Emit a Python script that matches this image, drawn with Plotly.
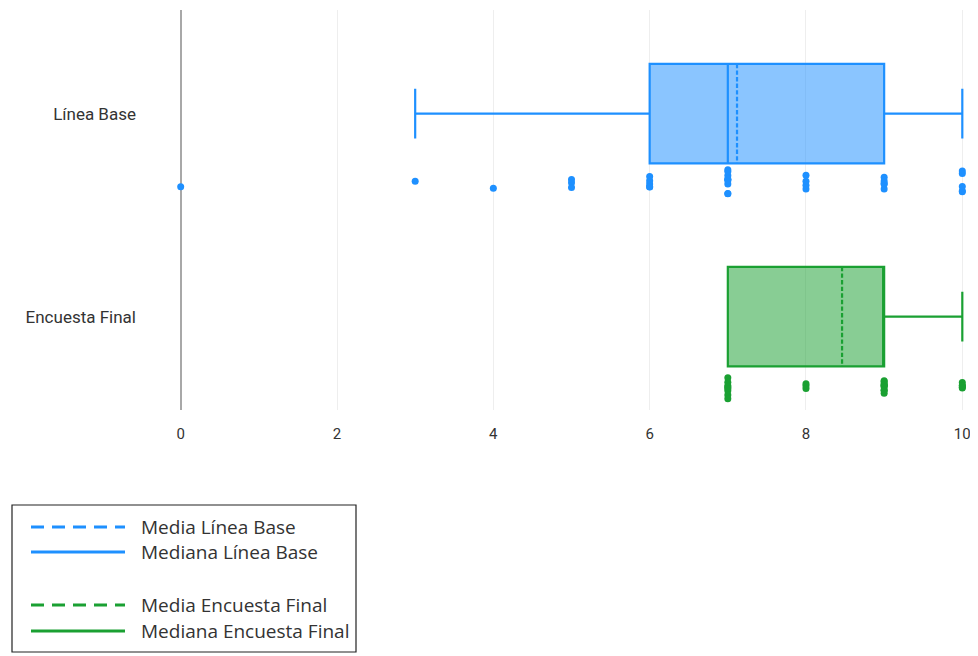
import plotly.graph_objects as go

# ---- data ----
categories = ["Línea Base", "Encuesta Final"]
score_levels = [0, 3, 4, 5, 6, 7, 8, 9, 10]
counts_base = [1, 1, 1, 3, 5, 9, 4, 5, 5]
final_levels = [7, 8, 9, 10]
counts_final = [8, 3, 10, 5]
x_ticks = [0, 2, 4, 6, 8, 10]
legend_labels = ["Media Línea Base", "Mediana Línea Base",
                 "Media Encuesta Final", "Mediana Encuesta Final"]

base_vals = [v for v, c in zip(score_levels, counts_base) for _ in range(c)]
final_vals = [v for v, c in zip(final_levels, counts_final) for _ in range(c)]

BLUE = "#1E90FF"
GREEN = "#1AA032"

fig = go.Figure()
for name, vals, col, fill in [
    (categories[0], base_vals, BLUE, "rgba(30,144,255,0.52)"),
    (categories[1], final_vals, GREEN, "rgba(26,160,50,0.52)"),
]:
    fig.add_trace(go.Box(
        x=vals, y=[name] * len(vals), orientation="h", name=name,
        boxpoints="all", jitter=0.3, pointpos=1.42, boxmean=True,
        width=0.49, line=dict(color=col, width=2.2), fillcolor=fill,
        marker=dict(color=col, size=7), showlegend=False,
    ))

# page is offset by the body margin (8px)
OFF = 8
W, H = 970, 648
L, R, T, B = 168, 11, 2, 246
pw, ph = W - L - R, H - T - B

def px(x):
    return (x - OFF - L) / pw

def py(y):
    return (OFF + T + ph - y) / ph

shapes = [dict(type="rect", xref="paper", yref="paper",
               x0=px(12), x1=px(356), y0=py(652), y1=py(505),
               line=dict(color="#222", width=1.2), fillcolor="white")]
annos = []
rows = [(527, BLUE, "13px,8px"), (552, BLUE, "solid"),
        (605, GREEN, "13px,8px"), (631, GREEN, "solid")]
for (yy, col, dash), lab in zip(rows, legend_labels):
    shapes.append(dict(type="line", xref="paper", yref="paper",
                       x0=px(31), x1=px(125), y0=py(yy), y1=py(yy),
                       line=dict(color=col, width=3, dash=dash)))
    annos.append(dict(xref="paper", yref="paper", x=px(139), y=py(yy),
                      text=lab, showarrow=False, xanchor="left", yanchor="middle",
                      font=dict(family="Open Sans, sans-serif", size=19, color="#333")))

fig.update_layout(
    width=W, height=H, margin=dict(l=L, r=R, t=T, b=B),
    plot_bgcolor="white", paper_bgcolor="white",
    shapes=shapes, annotations=annos, showlegend=False,
)
fig.update_xaxes(range=[-0.06, 10.06], tickvals=x_ticks, showgrid=True, gridcolor="#eeeeee",
                 gridwidth=1, zeroline=True, zerolinecolor="#a8a8a8", zerolinewidth=2,
                 showline=False, ticks="", ticklabeloverflow="allow", ticklabelstandoff=13,
                 tickfont=dict(family="Roboto, sans-serif", size=15, color="#333"))
fig.update_yaxes(categoryorder="array", categoryarray=categories,
                 range=[1.46, -0.51], showgrid=False, zeroline=False, showline=False,
                 ticklabelstandoff=39,
                 tickfont=dict(family="Roboto, Arial, sans-serif", size=17, color="#333"))

fig.write_html("out.html")
